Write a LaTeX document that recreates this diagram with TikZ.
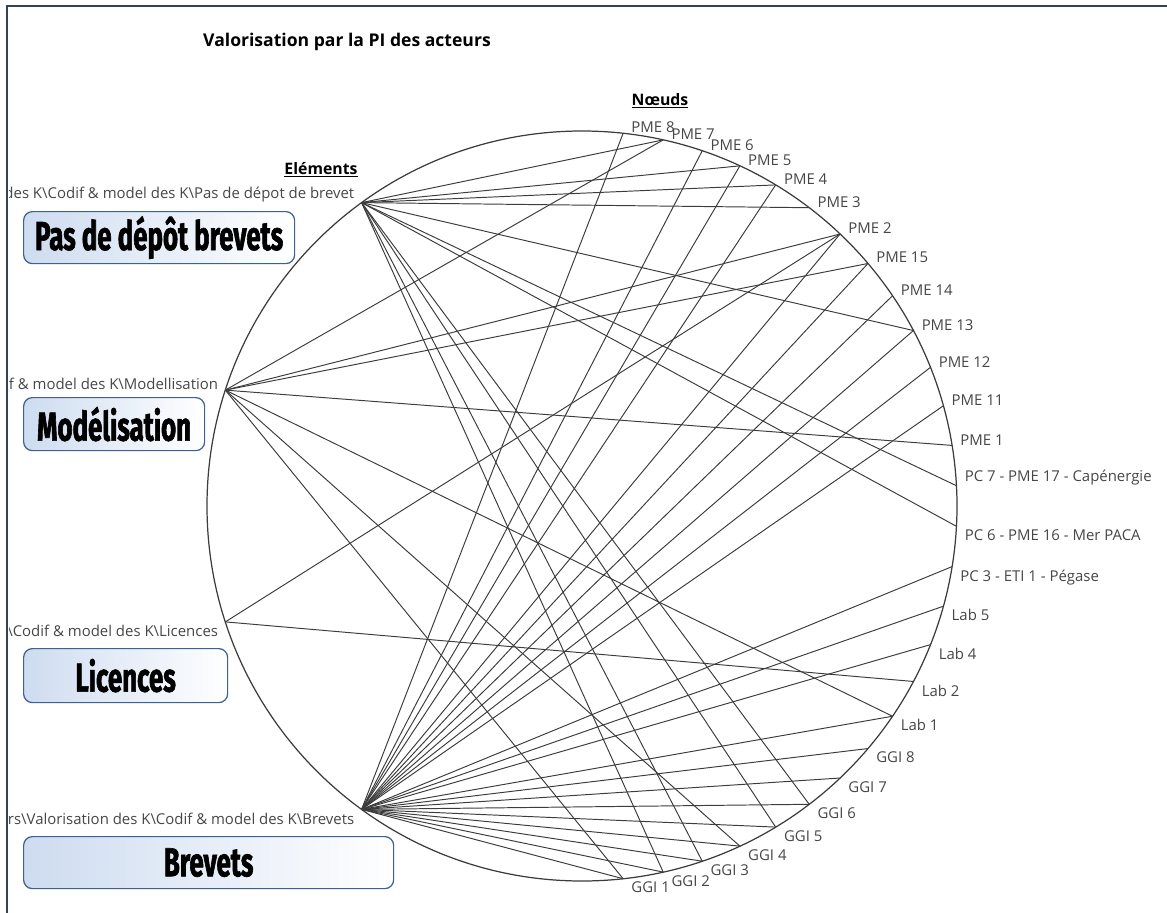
\documentclass[tikz,border=0pt]{standalone}
\usepackage{fontspec}
\setmainfont{Open Sans}
\newfontfamily\boxfont[FakeStretch=0.64, BoldFeatures={FakeBold=1.5}]{Fira Sans}
\usetikzlibrary{positioning}
\definecolor{framecol}{RGB}{52,66,86}
\definecolor{boxline}{RGB}{60,98,145}
\definecolor{boxfill}{RGB}{206,220,240}
\definecolor{inkgray}{RGB}{60,60,60}
\definecolor{txtgray}{RGB}{70,70,70}

\begin{document}
\begin{tikzpicture}[x=0.2mm, y=-0.2mm,
  pibox/.style={draw=boxline, line width=0.7pt, rounded corners=5pt,
    left color=boxfill, right color=white, anchor=north west, inner sep=0pt,
    font={\boxfont\bfseries\fontsize{23}{26}\selectfont}},
  nlabel/.style={font=\fontsize{8.5}{10}\selectfont, text=txtgray, inner sep=0pt},
  srclabel/.style={nlabel},
  heading/.style={font=\bfseries\fontsize{9}{11}\selectfont, inner sep=1pt},
  link/.style={inkgray, line width=0.55pt},
  ring/.style={inkgray, line width=0.7pt}
]
  \useasboundingbox (0,0) rectangle (1167,913);

  % Frame
  \draw[framecol, line width=1.6pt] (7,913) -- (7,6) -- (1167,6);

  % Title and headings
  \node[font=\bfseries\fontsize{10}{12}\selectfont] (titre) at (347,42) {Valorisation par la PI des acteurs};
  \node[heading] (elements) at (321,170) {\underline{Eléments}};
  \node[heading] (noeuds) at (660,101) {\underline{Nœuds}};

  % Circle
  \coordinate (centre) at (582,506);
  \draw[ring] (centre) circle [radius=375];

  % Elements (left side)
  \coordinate (pdb) at ({582+375*cos(126)},{506-375*sin(126)});
  \coordinate (mod) at ({582+375*cos(162)},{506-375*sin(162)});
  \coordinate (lic) at ({582+375*cos(198)},{506-375*sin(198)});
  \coordinate (brv) at ({582+375*cos(234)},{506-375*sin(234)});

  % Nodes (right side), upper half
  \foreach \name/\lab [count=\i from 0] in {pme8/PME 8, pme7/PME 7, pme6/PME 6,
      pme5/PME 5, pme4/PME 4, pme3/PME 3, pme2/PME 2, pme15/PME 15, pme14/PME 14,
      pme13/PME 13, pme12/PME 12, pme11/PME 11, pme1/PME 1,
      pc7/PC 7 - PME 17 - Capénergie} {
    \pgfmathsetmacro\a{83.7-6.2*\i}
    \coordinate (\name) at ({582+375*cos(\a)},{506-375*sin(\a)});
    \node[nlabel, anchor=south west, xshift=1.6mm] (\name-lab) at (\name) {\lab};
  }
  % lower half
  \foreach \name/\lab [count=\i from 14] in {pc6/PC 6 - PME 16 - Mer PACA,
      pc3/PC 3 - ETI 1 - Pégase, lab5/Lab 5, lab4/Lab 4, lab2/Lab 2, lab1/Lab 1,
      ggi8/GGI 8, ggi7/GGI 7, ggi6/GGI 6, ggi5/GGI 5, ggi4/GGI 4, ggi3/GGI 3,
      ggi2/GGI 2, ggi1/GGI 1} {
    \pgfmathsetmacro\a{83.7-6.2*\i}
    \coordinate (\name) at ({582+375*cos(\a)},{506-375*sin(\a)});
    \node[nlabel, anchor=north west, xshift=1.6mm, yshift=-0.6mm] (\name-lab) at (\name) {\lab};
  }

  % Links
  \foreach \t in {pme7,pme5,pme4,pme3,pme13,pc7,pc6,ggi6,ggi5,ggi3,ggi2}
    \draw[link] (pdb) -- (\t);
  \foreach \t in {pme7,pme2,pme15,pme1,lab1,ggi4,ggi1}
    \draw[link] (mod) -- (\t);
  \foreach \t in {pme2,lab2}
    \draw[link] (lic) -- (\t);
  \foreach \t in {pme8,pme6,pme5,pme4,pme2,pme15,pme14,pme13,pme12,pme11,pc3,
      lab5,lab4,lab1,ggi8,ggi7,ggi6,ggi5,ggi4,ggi3,ggi2,ggi1}
    \draw[link] (brv) -- (\t);

  % Element labels, cut by the frame
  \begin{scope}
    \clip (9,0) rectangle (1167,913);
    \node[srclabel, anchor=south east, xshift=-1.4mm] (pdb-lab) at (pdb)
      {des K\textbackslash Codif \& model des K\textbackslash Pas de dépot de brevet};
    \node[srclabel, anchor=south east, xshift=-1.4mm] (mod-lab) at (mod)
      {f \& model des K\textbackslash Modellisation};
    \node[srclabel, anchor=north east, xshift=-1.4mm, yshift=-0.6mm] (lic-lab) at (lic)
      {\textbackslash Codif \& model des K\textbackslash Licences};
    \node[srclabel, anchor=north east, xshift=-1.4mm, yshift=-0.6mm] (brv-lab) at (brv)
      {urs\textbackslash Valorisation des K\textbackslash Codif \& model des K\textbackslash Brevets};
  \end{scope}

  % Category boxes
  \node[pibox, minimum width=54.2mm, minimum height=10.4mm] (boxpdb) at (23,211) {Pas de dépôt brevets};
  \node[pibox, minimum width=36.2mm, minimum height=10.6mm] (boxmod) at (23,397) {Modélisation};
  \node[pibox, minimum width=40.8mm, minimum height=10.8mm] (boxlic) at (23,648) {Licences};
  \node[pibox, minimum width=74mm, minimum height=10.4mm] (boxbrv) at (23,836) {Brevets};
\end{tikzpicture}
\end{document}
